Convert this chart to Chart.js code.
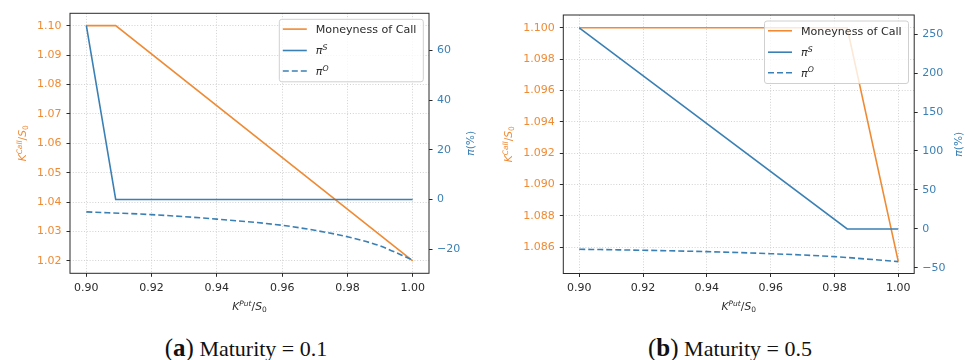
<!DOCTYPE html>
<html><head><meta charset="utf-8">
<script src="https://cdn.jsdelivr.net/npm/chart.js@4/dist/chart.umd.min.js"></script>
<style>
html,body{margin:0;padding:0;background:#fff;}
body{width:965px;height:360px;overflow:hidden;position:relative;}
.wrap{position:absolute;top:0;height:320px;}
#wa{left:0;width:480px;}
#wb{left:480px;width:485px;}
.cap{position:absolute;top:335px;line-height:26px;font-family:'Liberation Serif',serif;font-size:22px;color:#111;transform:translateX(-50%);white-space:nowrap;}
.cap .p{font-size:25px;}
</style></head><body>
<div class="wrap" id="wa"><canvas id="ca"></canvas></div>
<div class="wrap" id="wb"><canvas id="cb"></canvas></div>
<div class="cap" style="left:246px"><span class="p">(<b>a</b>)</span> Maturity = 0.1</div>
<div class="cap" style="left:730px"><span class="p">(<b>b</b>)</span> Maturity = 0.5</div>
<script>
// ---------- data: panel (a) Maturity = 0.1 ----------
const callXA = [0.90, 0.909, 1.00];
const callYA = [1.10, 1.10, 1.02];
const piSXA = [0.90, 0.909, 1.00];
const piSYA = [70, 0, 0];
const piOXA = [0.90, 0.92, 0.94, 0.96, 0.97, 0.98, 0.99, 1.00];
const piOYA = [-5.0, -6.1, -7.9, -10.4, -12.4, -15.0, -18.7, -24.4];
const yLeftTicksA = [1.02, 1.03, 1.04, 1.05, 1.06, 1.07, 1.08, 1.09, 1.10];
const yLeftLabelsA = ['1.02','1.03','1.04','1.05','1.06','1.07','1.08','1.09','1.10'];
const yRightTicksA = [-20, 0, 20, 40, 60];
const yRightLabelsA = ['\u221220','0','20','40','60'];

// ---------- data: panel (b) Maturity = 0.5 ----------
const callXB = [0.90, 0.984, 1.00];
const callYB = [1.100, 1.100, 1.0851];
const piSXB = [0.90, 0.984, 1.00];
const piSYB = [258, 0, 0];
const piOXB = [0.90, 0.92, 0.94, 0.96, 0.98, 1.00];
const piOYB = [-26.0, -27.3, -29.1, -31.7, -35.5, -41.9];
const yLeftTicksB = [1.086, 1.088, 1.090, 1.092, 1.094, 1.096, 1.098, 1.100];
const yLeftLabelsB = ['1.086','1.088','1.090','1.092','1.094','1.096','1.098','1.100'];
const yRightTicksB = [-50, 0, 50, 100, 150, 200, 250];
const yRightLabelsB = ['\u221250','0','50','100','150','200','250'];

// ---------- shared ----------
const xTicks = [0.90, 0.92, 0.94, 0.96, 0.98, 1.00];
const xLabels = ['0.90','0.92','0.94','0.96','0.98','1.00'];
const seriesLabels = ['Moneyness of Call', '\u03C0S', '\u03C0O'];

const ORANGE = '#ef8b35';
const BLUE = '#3b80b4';
const DARK = '#2a2a2a';
const GRID = '#c6c6c6';
const FONT = "'DejaVu Sans'";
const TICKFONT = {family: FONT, size: 11};

function pts(xs, ys){ return xs.map((x,i)=>({x:x, y:ys[i]})); }

function drawRich(ctx, parts, x, y, rot, color, align, size){
  ctx.save();
  ctx.translate(x, y);
  ctx.rotate(rot);
  ctx.fillStyle = color;
  ctx.textBaseline = 'alphabetic';
  ctx.textAlign = 'left';
  const fontOf = p => (p[2] ? 'italic ' : '') + (size*p[1]).toFixed(2) + 'px ' + FONT;
  let w = 0;
  const ws = parts.map(p => { ctx.font = fontOf(p); const m = ctx.measureText(p[0]).width; w += m; return m; });
  let cx = align === 'center' ? -w/2 : 0;
  const base = size*0.36;
  parts.forEach((p,i) => {
    ctx.font = fontOf(p);
    ctx.fillText(p[0], cx, base + p[3]);
    cx += ws[i];
  });
  ctx.restore();
}

const legendParts = [
  [['Moneyness of Call',1,false,0]],
  [['\u03C0',1,true,0],['S',0.7,true,-4.2]],
  [['\u03C0',1,true,0],['O',0.7,true,-4.2]]
];

const decor = {
  id: 'decor',
  afterDraw(chart){
    const o = chart.options.plugins.decor;
    const ctx = chart.ctx;
    const a = chart.chartArea;
    ctx.save();
    ctx.strokeStyle = DARK;
    ctx.lineWidth = 1;
    ctx.strokeRect(a.left, a.top, a.right - a.left, a.bottom - a.top);
    ctx.restore();
    const midY = (a.top + a.bottom)/2, midX = (a.left + a.right)/2;
    drawRich(ctx, [['K',1,true,0],['Call',0.7,true,-4.2],['/',1,false,0],['S',1,true,0],['0',0.7,false,2.6]],
      o.leftTitleX, midY, -Math.PI/2, ORANGE, 'center', 10.7);
    drawRich(ctx, [['\u03C0',1,true,0],['(%)',1,false,0]],
      o.rightTitleX, midY, -Math.PI/2, BLUE, 'center', 10.7);
    drawRich(ctx, [['K',1,true,0],['Put',0.7,true,-4.2],['/',1,false,0],['S',1,true,0],['0',0.7,false,2.6]],
      midX, o.xTitleY, 0, DARK, 'center', 10.7);
    const bw = 144, bh = 62.5;
    const bx = a.right - 5.7 - bw, by = a.top + 6;
    ctx.save();
    ctx.beginPath();
    if (ctx.roundRect) ctx.roundRect(bx, by, bw, bh, 2.5); else ctx.rect(bx, by, bw, bh);
    ctx.fillStyle = 'rgba(255,255,255,0.8)';
    ctx.fill();
    ctx.strokeStyle = '#d0d0d0';
    ctx.lineWidth = 1;
    ctx.stroke();
    ctx.restore();
    const rows = [9.8, 31.2, 51.7];
    chart.data.datasets.forEach((ds, i) => {
      const yy = by + rows[i];
      ctx.save();
      ctx.strokeStyle = ds.borderColor;
      ctx.lineWidth = ds.borderWidth;
      ctx.setLineDash(ds.borderDash || []);
      ctx.beginPath();
      ctx.moveTo(bx + 3.5, yy);
      ctx.lineTo(bx + 27.5, yy);
      ctx.stroke();
      ctx.restore();
      drawRich(ctx, legendParts[i], bx + 36.5, yy, 0, DARK, 'left', 11.1);
    });
  }
};

function makeChart(id, cfg){
  const fixTicks = (vals) => (s => { s.ticks = vals.map(v => ({value: v})); });
  return new Chart(document.getElementById(id), {
    type: 'line',
    data: {
      datasets: [
        {label: seriesLabels[0], data: pts(cfg.callX, cfg.callY), yAxisID: 'y', borderColor: ORANGE, borderWidth: 1.6, pointRadius: 0, tension: 0, order: 2},
        {label: seriesLabels[1], data: pts(cfg.piSX, cfg.piSY), yAxisID: 'y1', borderColor: BLUE, borderWidth: 1.6, pointRadius: 0, tension: 0, order: 1},
        {label: seriesLabels[2], data: pts(cfg.piOX, cfg.piOY), yAxisID: 'y1', borderColor: BLUE, borderWidth: 1.6, borderDash: [6, 3], pointRadius: 0, cubicInterpolationMode: 'monotone', order: 0}
      ]
    },
    options: {
      responsive: true,
      maintainAspectRatio: false,
      animation: false,
      events: [],
      layout: {padding: {top: cfg.topPad, left: 0, right: 0, bottom: 0}},
      plugins: {legend: {display: false}, tooltip: {enabled: false}, decor: cfg.decor},
      scales: {
        x: {
          type: 'linear', min: 0.895, max: 1.005,
          afterBuildTicks: fixTicks(xTicks),
          afterFit: s => { s.height = cfg.bottomH; },
          ticks: {callback: (v, i) => xLabels[i], color: DARK, font: TICKFONT, padding: 4.5, maxRotation: 0, autoSkip: false},
          grid: {color: GRID, lineWidth: 0.8, drawTicks: true, tickLength: 3.5, tickColor: DARK, tickWidth: 1},
          border: {display: false, dash: [1, 1.8]}
        },
        y: {
          type: 'linear', position: 'left', min: cfg.yMin, max: cfg.yMax,
          afterBuildTicks: fixTicks(cfg.yTicks),
          afterFit: s => { s.width = cfg.leftW; },
          ticks: {callback: (v, i) => cfg.yLabels[i], color: ORANGE, font: TICKFONT, padding: 5, autoSkip: false},
          grid: {color: GRID, lineWidth: 0.8, drawTicks: true, tickLength: 3.5, tickColor: DARK, tickWidth: 1},
          border: {display: false, dash: [1, 1.8]}
        },
        y1: {
          type: 'linear', position: 'right', min: cfg.y1Min, max: cfg.y1Max,
          afterBuildTicks: fixTicks(cfg.y1Ticks),
          afterFit: s => { s.width = cfg.rightW; },
          ticks: {callback: (v, i) => cfg.y1Labels[i], color: BLUE, font: TICKFONT, padding: 4.5, autoSkip: false},
          grid: {drawOnChartArea: false, drawTicks: true, tickLength: 3.5, tickColor: DARK, tickWidth: 1, color: DARK},
          border: {display: false}
        }
      }
    },
    plugins: [decor]
  });
}

makeChart('ca', {
  callX: callXA, callY: callYA, piSX: piSXA, piSY: piSYA, piOX: piOXA, piOY: piOYA,
  yMin: 1.0158, yMax: 1.1042, yTicks: yLeftTicksA, yLabels: yLeftLabelsA,
  y1Min: -29.7, y1Max: 74.9, y1Ticks: yRightTicksA, y1Labels: yRightLabelsA,
  topPad: 13.3, leftW: 70, rightW: 51, bottomH: 46.7,
  decor: {leftTitleX: 22, rightTitleX: 470, xTitleY: 306}
});
makeChart('cb', {
  callX: callXB, callY: callYB, piSX: piSXB, piSY: piSYB, piOX: piOXB, piOY: piOYB,
  yMin: 1.08433, yMax: 1.10081, yTicks: yLeftTicksB, yLabels: yLeftLabelsB,
  y1Min: -57.1, y1Max: 274.4, y1Ticks: yRightTicksB, y1Labels: yRightLabelsB,
  topPad: 15, leftW: 83.3, rightW: 50.8, bottomH: 46.5,
  decor: {leftTitleX: 28, rightTitleX: 478, xTitleY: 306}
});
</script>
</body></html>
